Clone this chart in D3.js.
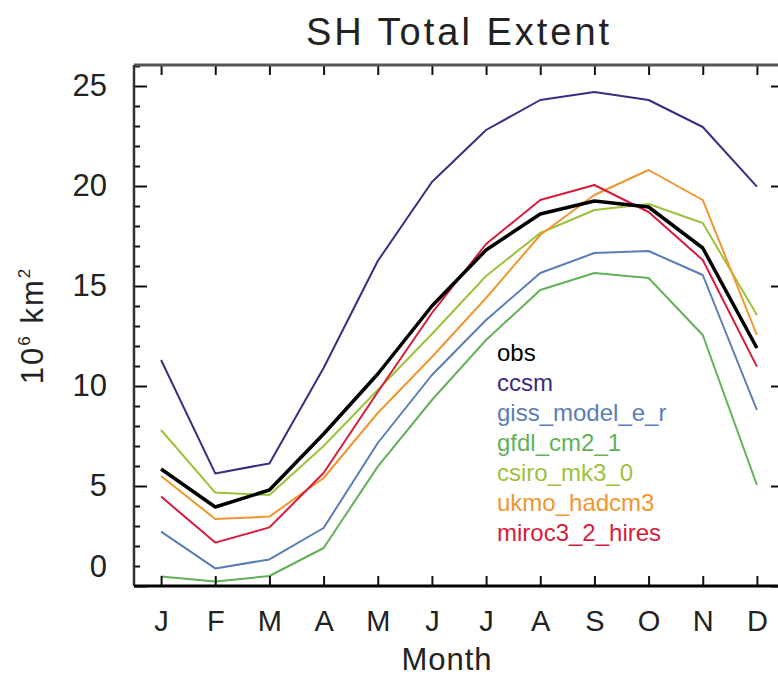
<html>
<head>
    <style>
        body { margin: 0; background: #ffffff; }
        svg { font-family: "Liberation Sans", Arial, Helvetica, sans-serif; }
    </style>
    <script src="https://cdn.jsdelivr.net/npm/d3@7"></script>
</head>
<body>
    <svg id="Grafico"></svg>

<script>
    // Datos (10^6 km^2), un valor por mes
    let meses = ["J", "F", "M", "A", "M", "J", "J", "A", "S", "O", "N", "D"];
    let ticksY = [0, 5, 10, 15, 20, 25];

    let obs    = [5.85, 3.95, 4.8, 7.6, 10.6, 14.0, 16.8, 18.6, 19.25, 18.95, 16.9, 11.9];
    let ccsm   = [11.3, 5.63, 6.13, 10.9, 16.25, 20.2, 22.8, 24.3, 24.7, 24.3, 22.95, 19.97];
    let giss   = [2.72, 0.88, 1.33, 2.9, 7.15, 10.55, 13.3, 15.65, 16.65, 16.75, 15.55, 8.8];
    let gfdl   = [0.47, 0.22, 0.5, 1.9, 5.97, 9.3, 12.3, 14.8, 15.65, 15.4, 12.55, 5.05];
    let csiro  = [7.8, 4.67, 4.55, 7.0, 9.8, 12.6, 15.5, 17.65, 18.8, 19.1, 18.15, 13.55];
    let ukmo   = [5.5, 3.35, 3.47, 5.4, 8.65, 11.45, 14.4, 17.55, 19.55, 20.8, 19.3, 12.55];
    let miroc  = [4.47, 2.17, 2.93, 5.65, 9.7, 13.65, 17.1, 19.3, 20.05, 18.7, 16.3, 10.97];

    let nombres = ["obs", "ccsm", "giss_model_e_r", "gfdl_cm2_1", "csiro_mk3_0", "ukmo_hadcm3", "miroc3_2_hires"];
    let colores = ["#000000", "#3b2c80", "#5a7db5", "#62b158", "#9cc23a", "#f0962e", "#d81b3c"];

    let series = [obs, ccsm, giss, gfdl, csiro, ukmo, miroc];

    function configuracion() {
        let ancho = 778;
        let alto = 679;
        let margenes = { top: 65, bottom: 93, left: 134, right: -6 };
        let contenedor = d3.select("#Grafico")
            .attr("width", ancho)
            .attr("height", alto);
        return { ancho, alto, margenes, contenedor };
    }

    function escalas(conf) {
        let { ancho, alto, margenes } = conf;
        let escalaX = d3.scaleLinear()
            .domain([0.5, 12.5])
            .range([margenes.left, ancho - margenes.right]);
        let escalaY = d3.scaleLinear()
            .domain([0, 26.05])
            .range([alto - margenes.bottom, margenes.top]);
        return { escalaX, escalaY };
    }

    function dibujarLineas(conf, esc) {
        let { contenedor } = conf;
        let { escalaX, escalaY } = esc;
        let linea = d3.line()
            .x((d, i) => escalaX(i + 1))
            .y(d => escalaY(d));

        // el orden de dibujo: modelos primero, obs encima
        let orden = [1, 2, 3, 4, 5, 6, 0];
        contenedor.append("g").selectAll("path")
            .data(orden)
            .enter().append("path")
            .attr("d", k => linea(series[k]))
            .attr("fill", "none")
            .attr("stroke", k => colores[k])
            .attr("stroke-width", k => k == 0 ? 3.5 : 2)
            .attr("stroke-linejoin", "round");
    }

    function dibujarEjes(conf, esc) {
        let { contenedor, margenes, ancho, alto } = conf;
        let { escalaX, escalaY } = esc;
        let abajo = alto - margenes.bottom;
        let derecha = ancho - margenes.right;

        // ticks menores del eje Y (cada unidad)
        let menores = d3.range(0, 27).filter(v => v % 5 != 0);

        let izqMenor = d3.axisLeft(escalaY).tickValues(menores).tickSize(-6).tickFormat("");
        contenedor.append("g").attr("transform", `translate(${margenes.left},0)`).call(izqMenor);

        let izq = d3.axisLeft(escalaY).tickValues(ticksY).tickSize(-13).tickPadding(27);
        let gIzq = contenedor.append("g").attr("transform", `translate(${margenes.left},0)`).call(izq);
        gIzq.selectAll("text").attr("font-size", 31).attr("fill", "#222");
        // IDL sube la etiqueta del 0
        gIzq.selectAll("text").filter(d => d == 0).attr("dy", "-0.3em");

        let derMenor = d3.axisLeft(escalaY).tickValues(menores).tickSize(6).tickFormat("");
        contenedor.append("g").attr("transform", `translate(${derecha},0)`).call(derMenor);
        let der = d3.axisLeft(escalaY).tickValues(ticksY).tickSize(13).tickFormat("");
        contenedor.append("g").attr("transform", `translate(${derecha},0)`).call(der);

        let abajoEje = d3.axisBottom(escalaX)
            .tickValues(d3.range(1, 13))
            .tickSize(-10)
            .tickPadding(24)
            .tickFormat(i => meses[i - 1]);
        let gAbajo = contenedor.append("g").attr("transform", `translate(0,${abajo})`).call(abajoEje);
        gAbajo.selectAll("text").attr("font-size", 29).attr("fill", "#222");

        let arriba = d3.axisTop(escalaX).tickValues(d3.range(1, 13)).tickSize(-10).tickFormat("");
        contenedor.append("g").attr("transform", `translate(0,${margenes.top})`).call(arriba);

        contenedor.selectAll(".domain").remove();
        contenedor.selectAll(".tick line").attr("stroke", "#111").attr("stroke-width", 2);

        // marco
        contenedor.append("line")
            .attr("x1", margenes.left).attr("x2", derecha)
            .attr("y1", margenes.top).attr("y2", margenes.top)
            .attr("stroke", "#555").attr("stroke-width", 3);
        contenedor.append("line")
            .attr("x1", margenes.left).attr("x2", margenes.left)
            .attr("y1", margenes.top).attr("y2", abajo)
            .attr("stroke", "#333").attr("stroke-width", 2.5);
        contenedor.append("line")
            .attr("x1", derecha).attr("x2", derecha)
            .attr("y1", margenes.top).attr("y2", abajo)
            .attr("stroke", "#333").attr("stroke-width", 2.5);
        contenedor.append("line")
            .attr("x1", margenes.left).attr("x2", derecha)
            .attr("y1", abajo).attr("y2", abajo)
            .attr("stroke", "#000").attr("stroke-width", 3);
    }

    function dibujarTextos(conf) {
        let { contenedor, margenes, ancho, alto } = conf;
        let centroX = (margenes.left + ancho - margenes.right) / 2;

        contenedor.append("text")
            .attr("x", centroX).attr("y", 45)
            .attr("text-anchor", "middle")
            .attr("font-size", 38)
            .attr("letter-spacing", 3)
            .attr("fill", "#222")
            .text("SH Total Extent");

        contenedor.append("text")
            .attr("x", centroX - 12).attr("y", 670)
            .attr("text-anchor", "middle")
            .attr("font-size", 31)
            .attr("letter-spacing", 1)
            .attr("fill", "#222")
            .text("Month");

        let etiquetaY = contenedor.append("text")
            .attr("transform", `translate(43,${(margenes.top + alto - margenes.bottom) / 2}) rotate(-90)`)
            .attr("text-anchor", "middle")
            .attr("font-size", 31)
            .attr("letter-spacing", 2)
            .attr("fill", "#222");
        etiquetaY.append("tspan").text("10");
        etiquetaY.append("tspan").attr("font-size", 17).attr("dy", -13).text("6");
        etiquetaY.append("tspan").attr("dy", 13).text(" km");
        etiquetaY.append("tspan").attr("font-size", 17).attr("dy", -13).text("2");
    }

    function dibujarLeyenda(conf) {
        let { contenedor } = conf;
        contenedor.append("g").selectAll("text")
            .data(nombres)
            .enter().append("text")
            .attr("x", 497)
            .attr("y", (d, i) => 361 + i * 30)
            .attr("font-size", 24)
            .attr("fill", (d, i) => colores[i])
            .text(d => d);
    }

    let conf = configuracion();
    let esc = escalas(conf);
    dibujarLineas(conf, esc);
    dibujarEjes(conf, esc);
    dibujarTextos(conf);
    dibujarLeyenda(conf);
</script>
</body>
</html>
